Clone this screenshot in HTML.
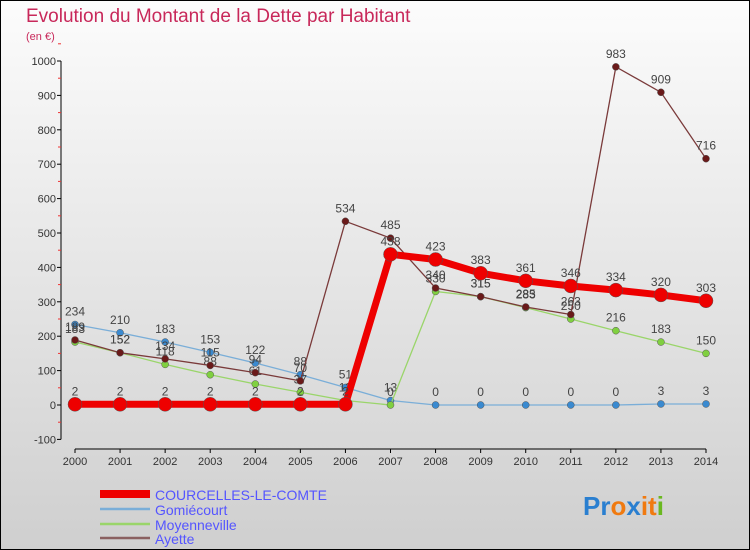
<!DOCTYPE html>
<html><head><meta charset="utf-8"><style>
body{margin:0;width:750px;height:550px;overflow:hidden;font-family:"Liberation Sans",sans-serif}
#c{position:absolute;left:0;top:0;width:748px;height:548px;border:1px solid #000;background:linear-gradient(#fcfcfc,#cfcfcf)}
</style></head><body>
<div id="c">
<svg id="s" width="750" height="550" style="position:absolute;left:-1px;top:-1px">
<text x="26" y="22" font-size="19" fill="#c8285a">Evolution du Montant de la Dette par Habitant</text>
<text x="26" y="40" font-size="11" fill="#c8285a">(en €)</text>
<g id="ax"></g><g id="ser"></g>
<g>
<rect x="100" y="490" width="50" height="8" fill="#e00"/>
<text x="155" y="500" font-size="14" fill="#55f">COURCELLES-LE-COMTE</text>
<line x1="100" y1="509" x2="150" y2="509" stroke="#7aaed8" stroke-width="2.5"/>
<text x="155" y="515" font-size="14" fill="#55f">Gomiécourt</text>
<line x1="100" y1="524" x2="150" y2="524" stroke="#9ad56a" stroke-width="2.5"/>
<text x="155" y="530" font-size="14" fill="#55f">Moyenneville</text>
<line x1="100" y1="538" x2="150" y2="538" stroke="#8a6060" stroke-width="2.5"/>
<text x="155" y="544" font-size="14" fill="#55f">Ayette</text>
</g>
<text x="583" y="515" font-size="26" font-weight="bold"><tspan fill="#2a7fd0">Pr</tspan><tspan fill="#f07a10">o</tspan><tspan fill="#2a7fd0">x</tspan><tspan fill="#f07a10">it</tspan><tspan fill="#6ab820">i</tspan></text>
</svg></div>
<script>
const years=[2000,2001,2002,2003,2004,2005,2006,2007,2008,2009,2010,2011,2012,2013,2014];
const yTicks=[-100,0,100,200,300,400,500,600,700,800,900,1000];
const courcelles=[2,2,2,2,2,2,2,438,423,383,361,346,334,320,303];
const gomiecourt=[234,210,183,153,122,88,51,13,0,0,0,0,0,3,3];
const moyenneville=[183,152,118,88,61,37,13,0,330,315,283,250,216,183,150];
const ayette=[189,152,134,115,94,70,534,485,340,315,285,263,983,909,716];
const NS="http://www.w3.org/2000/svg";
const X=i=>75+i*(706-75)/14, Y=v=>405-v*0.344;
function mk(t,a,p){const e=document.createElementNS(NS,t);for(const k in a)e.setAttribute(k,a[k]);p.appendChild(e);return e;}
const ax=document.getElementById('ax');
let l=mk('line',{x1:61,y1:Y(-100),x2:61,y2:Y(1000),stroke:'#000'},ax);


yTicks.forEach(v=>{
 mk('line',{x1:57,y1:Y(v),x2:61,y2:Y(v),stroke:'#000'},ax);
 mk('line',{x1:58,y1:Y(v+50),x2:61,y2:Y(v+50),stroke:'#e33'},ax);
 const t=mk('text',{x:56,y:Y(v)+4,'font-size':11,fill:'#333','text-anchor':'end'},ax);t.textContent=v;
 
 
});
l=mk('line',{x1:X(0),y1:449,x2:X(14),y2:449,stroke:'#000'},ax);


years.forEach((y,i)=>{
 mk('line',{x1:X(i),y1:449,x2:X(i),y2:453,stroke:'#000'},ax);
 const t=mk('text',{x:X(i),y:465,'font-size':11,fill:'#333','text-anchor':'middle'},ax);t.textContent=y;
 
 
});
const ser=document.getElementById('ser');
function draw(name,d,col,w,r,dot){
 const g=mk('g',{},ser);
 
 
 const p=mk('polyline',{points:d.map((v,i)=>X(i)+','+Y(v)).join(' '),fill:'none',stroke:col,'stroke-width':w},g);
 
 
 d.forEach((v,i)=>{
  const c=mk('circle',{cx:X(i),cy:Y(v),r:r,fill:dot,stroke:'#555','stroke-width':0.5},g);
  
  
  const t=mk('text',{x:X(i),y:Y(v)-9,'font-size':12,fill:'#444','text-anchor':'middle'},g);t.textContent=v;
  
  
 });
}
draw('gomiecourt',gomiecourt,'#7aaed8',1.3,3.5,'#3a8ad0');
draw('moyenneville',moyenneville,'#9ad56a',1.3,3.5,'#80d040');
draw('ayette',ayette,'#7a3a3a',1.3,3.5,'#6a1a1a');
draw('courcelles',courcelles,'#ee0000',7,7,'#ee0000');
</script>
</body></html>
